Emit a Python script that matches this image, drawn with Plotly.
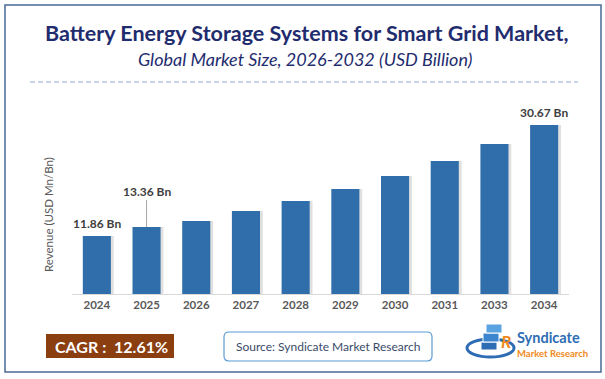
import plotly.graph_objects as go

years = ["2024", "2025", "2026", "2027", "2028", "2029", "2030", "2031", "2033", "2034"]
revenue = [11.86, 13.36, 14.40, 16.10, 17.79, 19.83, 22.03, 24.57, 27.45, 30.67]
labeled_years = ["2024", "2025", "2034"]
cagr_text = "CAGR :  12.61%"
title_text = "Battery Energy Storage Systems for Smart Grid Market,"
subtitle_text = "Global Market Size, 2026-2032 (USD Billion)"
source_text = "Source: Syndicate Market Research"

W, H = 605, 379
ML, MR, MT, MB = 72, 36, 110, 85
PW, PH = W - ML - MR, H - MT - MB
FONT = "Lato"
BAR = "#2F6EAA"


def X(x):
    return (x - ML) / PW


def Y(y):
    return (H - MB - y) / PH


fig = go.Figure()
idx = list(range(len(years)))
# soft drop shadow behind each bar
fig.add_trace(go.Bar(x=idx, y=revenue, width=0.6, offset=-0.26,
                     marker=dict(color="rgba(0,0,0,0.12)", line=dict(width=0)),
                     hoverinfo="skip", showlegend=False))
fig.add_trace(go.Bar(x=idx, y=revenue, width=0.565, offset=-0.2825,
                     marker=dict(color=BAR, line=dict(width=0)), showlegend=False))

annotations = []
for i, (yr, v) in enumerate(zip(years, revenue)):
    if yr not in labeled_years:
        continue
    if yr == "2025":
        annotations.append(dict(x=i, y=v, xref="x", yref="y", text=f"<b>{v:.2f} Bn</b>",
                                showarrow=True, arrowhead=0, arrowwidth=1, arrowcolor="#A6A6A6",
                                ax=0, ay=-36, standoff=0, startstandoff=0,
                                font=dict(family=FONT, size=12, color="#404040")))
    else:
        annotations.append(dict(x=i, y=v, xref="x", yref="y", text=f"<b>{v:.2f} Bn</b>",
                                showarrow=False, yanchor="bottom", yshift=3,
                                font=dict(family=FONT, size=12, color="#404040")))

annotations += [
    dict(x=X(306), y=Y(33), xref="paper", yref="paper", text=f"<b>{title_text}</b>",
         showarrow=False, xanchor="center", yanchor="middle",
         font=dict(family=FONT, size=21.5, color="#1F2C6E")),
    dict(x=X(305), y=Y(59), xref="paper", yref="paper", text=f"<i>{subtitle_text}</i>",
         showarrow=False, xanchor="center", yanchor="middle",
         font=dict(family=FONT, size=18, color="#1F2C6E")),
    dict(x=X(48), y=Y(215), xref="paper", yref="paper", text="Revenue (USD Mn/Bn)",
         textangle=-90, showarrow=False, xanchor="center", yanchor="middle",
         font=dict(family=FONT, size=11.5, color="#595959")),
    dict(x=X(111), y=Y(346), xref="paper", yref="paper", text=f"<b>{cagr_text}</b>",
         showarrow=False, xanchor="center", yanchor="middle",
         font=dict(family=FONT, size=16, color="white")),
    dict(x=X(328), y=Y(346), xref="paper", yref="paper", text=source_text,
         showarrow=False, xanchor="center", yanchor="middle",
         font=dict(family=FONT, size=12, color="#3A4A6B")),
    dict(x=X(519), y=Y(337.5), xref="paper", yref="paper", text="<b>Syndicate</b>",
         showarrow=False, xanchor="left", yanchor="middle", xshift=-3, borderpad=0,
         font=dict(family=FONT, size=14.5, color="#2E6DB4")),
    dict(x=X(519), y=Y(353), xref="paper", yref="paper", text="<b>Market Research</b>",
         showarrow=False, xanchor="left", yanchor="middle", xshift=-3, borderpad=0,
         font=dict(family=FONT, size=9.5, color="#F08A1C")),
    dict(x=X(506), y=Y(341), xref="paper", yref="paper", text="<b><i>R</i></b>",
         showarrow=False, xanchor="center", yanchor="middle", borderpad=0,
         font=dict(family=FONT, size=17, color="#F08A1C")),
]

l, r, t, b = X(224), X(432), Y(332), Y(361)
dx, dy = 5 / PW, 5 / PH
shapes = [
    # outer frame
    dict(type="rect", xref="paper", yref="paper", x0=X(5), x1=X(601), y0=Y(372), y1=Y(5),
         line=dict(color="#4A6A94", width=1.5), layer="below"),
    # dashed divider
    dict(type="line", xref="paper", yref="paper", x0=X(30), x1=X(578), y0=Y(82), y1=Y(82),
         line=dict(color="#8FA8D0", width=1.2, dash="5px,3px")),
    # CAGR box
    dict(type="rect", xref="paper", yref="paper", x0=X(46), x1=X(174), y0=Y(358), y1=Y(334),
         fillcolor="#8B3E0F", line=dict(width=0), layer="below"),
    # source box (rounded)
    dict(type="path", xref="paper", yref="paper",
         path=(f"M {l+dx},{t} L {r-dx},{t} Q {r},{t} {r},{t-dy} L {r},{b+dy} Q {r},{b} {r-dx},{b} "
               f"L {l+dx},{b} Q {l},{b} {l},{b+dy} L {l},{t-dy} Q {l},{t} {l+dx},{t} Z"),
         line=dict(color="#5B9BD5", width=1.2), layer="below"),
    # logo swoosh
    dict(type="circle", xref="paper", yref="paper", x0=X(467), x1=X(514), y0=Y(357), y1=Y(339),
         line=dict(color="#2E6DB4", width=3)),
    # logo blocks
    dict(type="rect", xref="paper", yref="paper", x0=X(481), x1=X(497), y0=Y(350), y1=Y(342),
         fillcolor="#2E6DB4", line=dict(color="white", width=1)),
    dict(type="rect", xref="paper", yref="paper", x0=X(483), x1=X(499), y0=Y(342), y1=Y(333),
         fillcolor="#3C86CF", line=dict(color="white", width=1)),
    dict(type="rect", xref="paper", yref="paper", x0=X(486), x1=X(502), y0=Y(333), y1=Y(324),
         fillcolor="#5AA2E0", line=dict(color="white", width=1)),
]

fig.update_layout(
    width=W, height=H,
    margin=dict(l=ML, r=MR, t=MT, b=MB),
    paper_bgcolor="white", plot_bgcolor="white",
    barmode="overlay",
    showlegend=False,
    xaxis=dict(range=[-0.5, len(years) - 0.5], tickmode="array", tickvals=idx, ticktext=years,
               showline=True, linecolor="#D9D9D9", linewidth=1, ticks="", showgrid=False, zeroline=False,
               tickfont=dict(family=FONT, size=11.5, color="#595959", weight="bold")),
    yaxis=dict(range=[2.03, 33.2], visible=False, showgrid=False, zeroline=False),
    annotations=annotations,
    shapes=shapes,
)

fig.write_html("out.html", config={"displayModeBar": False},
               post_script="document.body.style.margin='0';")
